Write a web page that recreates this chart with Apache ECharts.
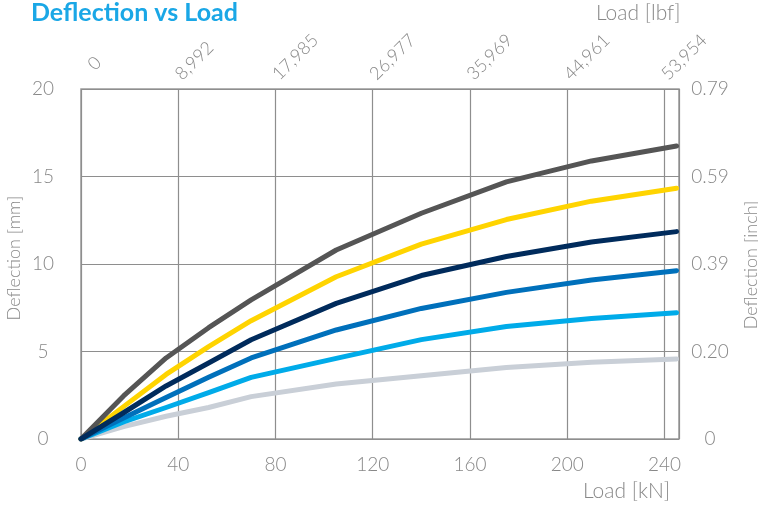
<!DOCTYPE html>
<html>
<head>
<meta charset="utf-8">
<script src="https://cdn.jsdelivr.net/npm/echarts@6/dist/echarts.min.js"></script>
<style>
  html, body { margin: 0; padding: 0; background: #fff; }
  #main { width: 758px; height: 511px; }
</style>
</head>
<body>
<div id="main"></div>
<script>
// load points in kN
var loadKN = [0, 17.5, 35, 52.5, 70, 105, 140, 175, 210, 245]
// deflection in mm
var darkGrey  = [0, 2.46, 4.63, 6.36, 7.95, 10.8, 12.9, 14.69, 15.89, 16.74]
var yellow    = [0, 1.85, 3.69, 5.28, 6.76, 9.27, 11.14, 12.54, 13.59, 14.33]
var navy      = [0, 1.5, 3.03, 4.34, 5.67, 7.75, 9.34, 10.43, 11.26, 11.85]
var blue      = [0, 1.2, 2.37, 3.53, 4.63, 6.23, 7.46, 8.38, 9.09, 9.62]
var lightBlue = [0, 0.98, 1.8, 2.65, 3.52, 4.61, 5.68, 6.43, 6.89, 7.22]
var lightGrey = [0, 0.71, 1.3, 1.8, 2.42, 3.14, 3.61, 4.09, 4.38, 4.57]

// tick labels
var knTicks = ['0', '40', '80', '120', '160', '200', '240']
var lbfTicks = ['0', '8,992', '17,985', '26,977', '35,969', '44,961', '53,954']
var mmTicks = ['0', '5', '10', '15', '20']
var inchTicks = ['0', '0.20', '0.39', '0.59', '0.79']

function pairs(ys) {
  return ys.map(function (y, i) { return [loadKN[i], y] })
}

var chart = echarts.init(document.getElementById('main'), null, { renderer: 'canvas' })

var txt = '#888888'
var font = 'Lato, "DejaVu Sans", sans-serif'
var grid = '#8e8e8e'

function line(name, color, data, z) {
  return {
    name: name,
    type: 'line',
    data: pairs(data),
    showSymbol: false,
    z: z,
    lineStyle: { color: color, width: 5, cap: 'round', join: 'round' },
    emphasis: { disabled: true }
  }
}

var option = {
  animation: false,
  textStyle: { fontFamily: font },
  grid: {
    left: 81, right: 79, top: 89, bottom: 72,
    show: true, borderColor: '#9a9a9a', borderWidth: 1.5
  },
  graphic: [
    { type: 'text', left: 31, top: 0, style: { text: 'Deflection vs Load', fill: '#1aa7e6', font: 'bold 25px ' + font } },
    { type: 'text', left: 596, top: 3, style: { text: 'Load [lbf]', fill: txt, font: '300 21px ' + font } },
    { type: 'text', left: 583, top: 481, style: { text: 'Load [kN]', fill: txt, font: '300 21px ' + font } },
    { type: 'text', x: 14, y: 258, rotation: Math.PI / 2, style: { text: 'Deflection [mm]', fill: txt, font: '300 18px ' + font, align: 'center', verticalAlign: 'middle' } },
    { type: 'text', x: 751, y: 265, rotation: Math.PI / 2, style: { text: 'Deflection [inch]', fill: txt, font: '300 18px ' + font, align: 'center', verticalAlign: 'middle' } }
  ],
  xAxis: [
    {
      type: 'value', position: 'bottom', min: 0, max: 246, interval: 40,
      axisLine: { show: false }, axisTick: { show: false },
      splitLine: { show: true, lineStyle: { color: grid, width: 1.2 } },
      axisLabel: {
        color: txt, fontSize: 19, fontWeight: 300, margin: 16,
        formatter: function (v) { return v % 40 === 0 ? knTicks[v / 40] : '' }
      }
    },
    {
      type: 'value', position: 'top', min: 0, max: 246, interval: 40,
      axisLine: { show: false }, axisTick: { show: false }, splitLine: { show: false },
      axisLabel: {
        show: true, rotate: 45, color: txt, fontSize: 18, fontWeight: 300, margin: 12,
        formatter: function (v) {
          if (v % 40 !== 0) return ''
          // the "0" sits a bit higher in the original
          return v === 0 ? '{z|' + lbfTicks[0] + '}' : lbfTicks[v / 40]
        },
        rich: { z: { color: txt, fontSize: 18, fontWeight: 300, padding: [0, 0, 0, 14] } }
      }
    }
  ],
  yAxis: [
    {
      type: 'value', position: 'left', min: 0, max: 20, interval: 5,
      axisLine: { show: false }, axisTick: { show: false },
      splitLine: { show: true, lineStyle: { color: grid, width: 1.2 } },
      axisLabel: {
        color: txt, fontSize: 19, fontWeight: 300, margin: 38, align: 'center',
        formatter: function (v) { return mmTicks[v / 5] }
      }
    },
    {
      type: 'value', position: 'right', min: 0, max: 20, interval: 5,
      axisLine: { show: false }, axisTick: { show: false }, splitLine: { show: false },
      axisLabel: {
        color: txt, fontSize: 19, fontWeight: 300, margin: 31, align: 'center',
        formatter: function (v) { return inchTicks[v / 5] }
      }
    }
  ],
  series: [
    line('light grey', '#c9cfd7', lightGrey, 2),
    line('light blue', '#00abe9', lightBlue, 3),
    line('blue', '#0070bb', blue, 4),
    line('yellow', '#ffd400', yellow, 5),
    line('dark grey', '#555555', darkGrey, 6),
    line('navy', '#002b5c', navy, 7)
  ]
}
chart.setOption(option)
</script>
</body>
</html>
